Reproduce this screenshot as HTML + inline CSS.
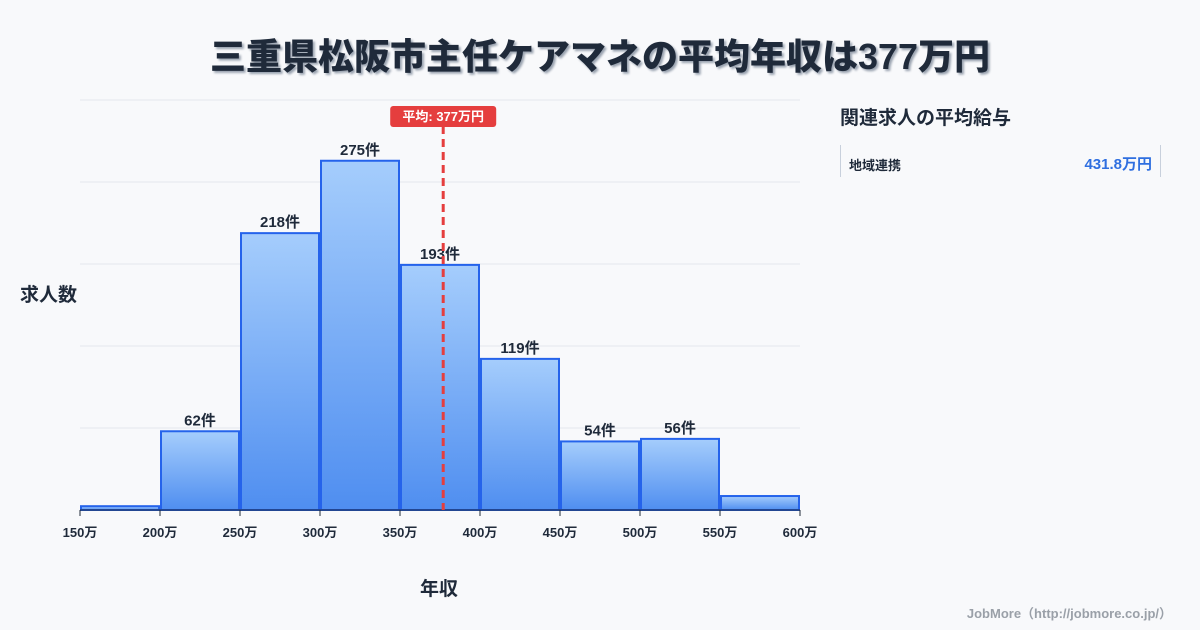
<!DOCTYPE html>
<html><head><meta charset="utf-8"><style>
body{margin:0;width:1200px;height:630px;background:#f8f9fb;font-family:"Liberation Sans","Noto Sans CJK JP",sans-serif;overflow:hidden;position:relative}
.t{position:absolute}
</style></head><body>
<div class="t" style="left:0;width:1200px;top:28px;text-align:center;font-size:36px;font-weight:900;color:#1f2a3a;text-shadow:2px 2px 2px #9aa3b0">三重県松阪市主任ケアマネの平均年収は377万円</div>
<div class="t" style="left:20px;top:280px;font-size:19px;font-weight:700;color:#1f2a3a">求人数</div>
<div class="t" style="left:420px;top:574px;font-size:19px;font-weight:700;color:#1f2a3a">年収</div>
<div class="t" style="left:840px;top:103px;font-size:19px;font-weight:700;color:#1f2a3a">関連求人の平均給与</div>
<div class="t" style="left:840px;top:145px;width:319px;height:32px;border-left:1px solid #c8d0dc;border-right:1px solid #c8d0dc">
<span style="position:absolute;left:8px;top:10px;font-size:13px;font-weight:700;color:#1f2a3a">地域連携</span>
<span style="position:absolute;right:8px;top:8px;font-size:15px;font-weight:700;color:#2f6fe0">431.8万円</span></div>
<div class="t" style="right:28px;top:603px;font-size:13px;font-weight:700;color:#9aa0a8">JobMore（http://jobmore.co.jp/）</div>
<svg id="c" width="1200" height="630" style="position:absolute;left:0;top:0">
<defs><linearGradient id="g" x1="0" y1="0" x2="0" y2="1"><stop offset="0" stop-color="#a5cdfc"/><stop offset="1" stop-color="#4f8ef0"/></linearGradient></defs>
</svg>
<script>
const binStarts=[150,200,250,300,350,400,450,500,550];
const counts=[3,62,218,275,193,119,54,56,11];
const showLabel=[false,true,true,true,true,true,true,true,false];
const xTicks=[150,200,250,300,350,400,450,500,550,600];
const meanValue=377;
const svg=document.getElementById('c');const NS='http://www.w3.org/2000/svg';
const x=v=>80+(v-150)*1.6, y=v=>510-v*1.27;
function mk(t,a){const e=document.createElementNS(NS,t);for(const k in a)e.setAttribute(k,a[k]);svg.appendChild(e);return e;}
for(let i=0;i<6;i++){const g=mk('line',{x1:80,x2:800,y1:510-i*82,y2:510-i*82,stroke:'#e3e7ed'});

}
binStarts.forEach((b,i)=>{const r=mk('rect',{x:x(b)+1,y:y(counts[i]),width:78,height:510-y(counts[i]),fill:'url(#g)',stroke:'#2563eb','stroke-width':2});


if(showLabel[i]){const t=mk('text',{x:x(b)+40,y:y(counts[i])-6,'text-anchor':'middle','font-size':15,'font-weight':700,fill:'#1f2a3a'});t.textContent=counts[i]+'件';

}});
const ax=mk('line',{x1:80,x2:800,y1:510,y2:510,stroke:'#1f2a3a'});


xTicks.forEach(v=>{const tk=mk('line',{x1:x(v),x2:x(v),y1:510,y2:516,stroke:'#1f2a3a'});


const t=mk('text',{x:x(v),y:537,'text-anchor':'middle','font-size':13,'font-weight':700,fill:'#1f2a3a'});t.textContent=v+'万';

});
const mx=x(meanValue);
const ml=mk('line',{x1:mx,x2:mx,y1:126,y2:510,stroke:'#e53e3e','stroke-width':3,'stroke-dasharray':'8,5'});


const mb=mk('rect',{x:mx-53,y:106,width:106,height:21,rx:3,fill:'#e53e3e'});


const mt=mk('text',{x:mx,y:121,'text-anchor':'middle','font-size':13,'font-weight':700,fill:'#fff'});mt.textContent='平均: '+meanValue+'万円';


</script>
</body></html>
